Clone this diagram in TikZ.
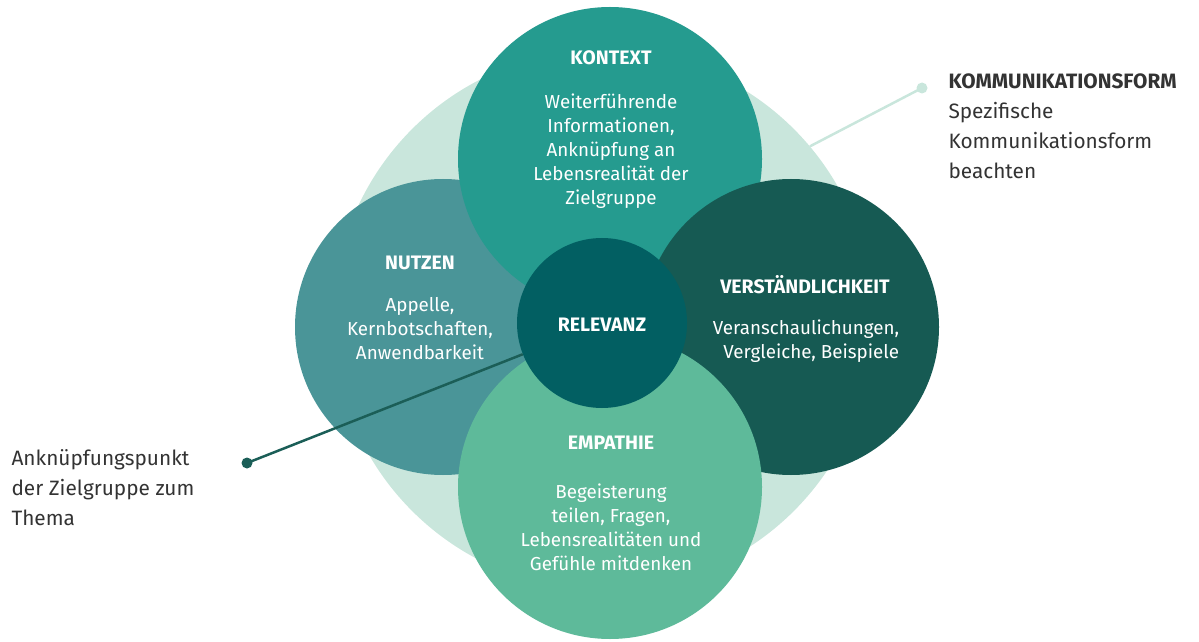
\documentclass[tikz,border=0pt]{standalone}
\usepackage{fontspec}
\setmainfont{Fira Sans}
\usetikzlibrary{positioning}
\definecolor{mint}{HTML}{C9E6DC}
\definecolor{kontextcol}{HTML}{259B8F}
\definecolor{nutzencol}{HTML}{4A9598}
\definecolor{verstcol}{HTML}{165A53}
\definecolor{empathiecol}{HTML}{5EBA9A}
\definecolor{relevanzcol}{HTML}{025F62}
\definecolor{pincol}{HTML}{1B5E57}
\definecolor{textgray}{HTML}{333333}

\begin{document}
\begin{tikzpicture}[
	x=1pt, y=1pt,
	blob/.style={circle, inner sep=0pt, minimum size=#1},
	head/.style={font=\fontsize{19.5}{24}\selectfont\bfseries, text=white},
	body/.style={font=\fontsize{18.8}{24}\selectfont, text=white, align=center},
	side/.style={font=\fontsize{20.8}{30}\selectfont, text=textgray, align=left, anchor=west},
	pin/.style={circle, inner sep=0pt, minimum size=11pt},
]
\useasboundingbox (0,0) rectangle (1199,641);

% circles, back to front
\node[blob=540, fill=mint] (bg) at (603,321) {};
\node[blob=296, fill=nutzencol] (nutzen) at (443,314) {};
\node[blob=304, fill=kontextcol] (kontext) at (610,482) {};
\node[blob=296, fill=verstcol] (verst) at (791,314) {};
\node[blob=304, fill=empathiecol] (empathie) at (610,154) {};

% pointer lines
\node[pin, fill=mint] (kommpin) at (922,553) {};
\draw[mint, line width=2.5pt] (kommpin.center) -- (bg.40);
\node[blob=170, fill=relevanzcol] (relevanz) at (602,318) {};
\node[pin, fill=pincol] (ankpin) at (247,178) {};
\draw[pincol, line width=2.5pt] (ankpin.center) -- (relevanz);

% texts in the circles
\node[head] (kontexthead) at (611,583) {KONTEXT};
\node[body] (kontextbody) at (611,490) {Weiterführende\\Informationen,\\Anknüpfung an\\Lebensrealität der\\Zielgruppe};
\node[head] (nutzenhead) at (420,378) {NUTZEN};
\node[body] (nutzenbody) at (420,312) {Appelle,\\Kernbotschaften,\\Anwendbarkeit};
\node[head] (versthead) at (805,356) {VERSTÄNDLICHKEIT};
\node[body, align=right] (verstbody) at (806,300) {Veranschaulichungen,\\Vergleiche, Beispiele};
\node[head] (relevanzhead) at (602,316) {RELEVANZ};
\node[head] (empathiehead) at (611,198) {EMPATHIE};
\node[body] (empathiebody) at (611,114) {Begeisterung\\teilen, Fragen,\\Lebensrealitäten und\\Gefühle mitdenken};

% side notes
\node[side] (kommtext) at (945,515) {\textbf{KOMMUNIKATIONSFORM}\\Spezifische\\Kommunikationsform\\beachten};
\node[side] (anktext) at (8,153) {Anknüpfungspunkt\\der Zielgruppe zum\\Thema};
\end{tikzpicture}
\end{document}
